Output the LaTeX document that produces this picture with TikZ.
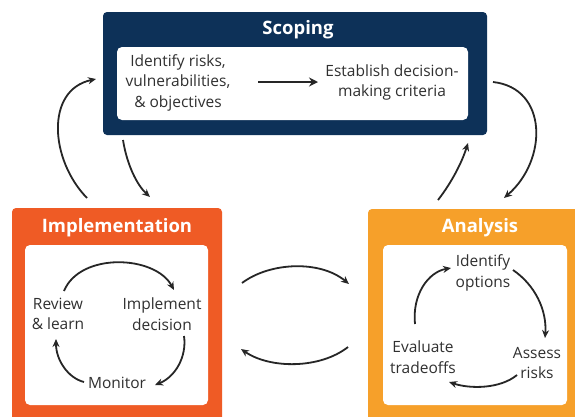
\documentclass[tikz,border=0pt]{standalone}
\usepackage{fontspec}
\setmainfont{Open Sans}
\usetikzlibrary{arrows.meta}
\definecolor{navy}{HTML}{0D3158}
\definecolor{implc}{HTML}{EF5B25}
\definecolor{analc}{HTML}{F6A02A}
\definecolor{txt}{HTML}{303030}
\begin{document}
\begin{tikzpicture}[x=1pt,y=-1pt,
  outerbox/.style={rounded corners=4pt, inner sep=0pt},
  innerbox/.style={fill=white, rounded corners=5pt, inner sep=0pt},
  title/.style={text=white, font=\bfseries\fontsize{18.5}{20}\selectfont},
  label/.style={text=txt, align=center, font=\fontsize{15.5}{20.5}\selectfont, inner sep=1pt},
  arr/.style={draw=black!85, line width=1.8pt, -{Stealth[length=8pt,width=7pt]}}
]
\clip (0,0) rectangle (575,416);
\fill[white] (0,0) rectangle (575,416);

% Scoping
\node[outerbox, fill=navy, minimum width=384pt, minimum height=123pt] (scoping) at (295,73.5) {};
\node[innerbox, minimum width=351pt, minimum height=73pt] (scopin) at (292.5,83.5) {};
\node[title] (scopt) at (298,30) {Scoping};
\node[label] (ident) at (178,82.5) {Identify risks,\\vulnerabilities,\\\& objectives};
\node[label] (estab) at (392,82.5) {Establish decision-\\making criteria};
\coordinate (s1) at (258,82);
\coordinate (s2) at (318,82);
\draw[arr, line width=2.4pt, -{Stealth[length=9pt,width=9pt]}] (s1) -- (s2);

% Implementation
\node[outerbox, fill=implc, minimum width=210pt, minimum height=232pt] (impl) at (117,324) {};
\node[innerbox, minimum width=183pt, minimum height=160pt] (implin) at (116.5,325) {};
\node[title] (implt) at (117,228) {Implementation};
\node[label] (review) at (58,314) {Review\\\& learn};
\node[label] (impdec) at (162,314) {Implement\\decision};
\node[label] (monitor) at (117,383) {Monitor};
\coordinate (i1) at (64,291);
\coordinate (i2) at (174,290);
\coordinate (i3) at (184,336);
\coordinate (i4) at (155,385);
\coordinate (i5) at (84,382);
\coordinate (i6) at (56,339);
\draw[arr] (i1) .. controls (80,252) and (155,255) .. (i2);
\draw[arr] (i3) .. controls (187,357) and (175,377) .. (i4);
\draw[arr] (i5) .. controls (68,378) and (56,360) .. (i6);

% Analysis
\node[outerbox, fill=analc, minimum width=222pt, minimum height=231pt] (anal) at (479,324.5) {};
\node[innerbox, minimum width=184pt, minimum height=160pt] (analin) at (475,325) {};
\node[title] (analt) at (480,228) {Analysis};
\node[label] (options) at (483,273) {Identify\\options};
\node[label] (assess) at (537,363) {Assess\\risks};
\node[label] (evaluate) at (423,357) {Evaluate\\tradeoffs};
\coordinate (a1) at (513,270);
\coordinate (a2) at (545,338);
\coordinate (a3) at (517,375);
\coordinate (a4) at (449,382);
\coordinate (a5) at (415,324);
\coordinate (a6) at (451,268);
\draw[arr] (a1) .. controls (535,285) and (547,310) .. (a2);
\draw[arr] (a3) .. controls (500,389) and (470,389) .. (a4);
\draw[arr] (a5) .. controls (412,295) and (428,272) .. (a6);

% Middle
\coordinate (m1) at (242,283);
\coordinate (m2) at (349,284);
\coordinate (m3) at (348,347);
\coordinate (m4) at (241,349);
\draw[arr] (m1) .. controls (270,262) and (320,260) .. (m2);
\draw[arr] (m3) .. controls (320,369) and (270,369) .. (m4);

% Outer loop
\coordinate (o1) at (87,198);
\coordinate (o2) at (96,79);
\coordinate (o3) at (123,140);
\coordinate (o4) at (150,197);
\coordinate (o5) at (438,200);
\coordinate (o6) at (468,143);
\coordinate (o7) at (493,82);
\coordinate (o8) at (504,198);
\draw[arr] (o1) .. controls (50,160) and (45,90) .. (o2);
\draw[arr] (o3) .. controls (127,165) and (137,185) .. (o4);
\draw[arr] (o5) .. controls (452,182) and (462,162) .. (o6);
\draw[arr] (o7) .. controls (548,88) and (548,160) .. (o8);
\end{tikzpicture}
\end{document}
